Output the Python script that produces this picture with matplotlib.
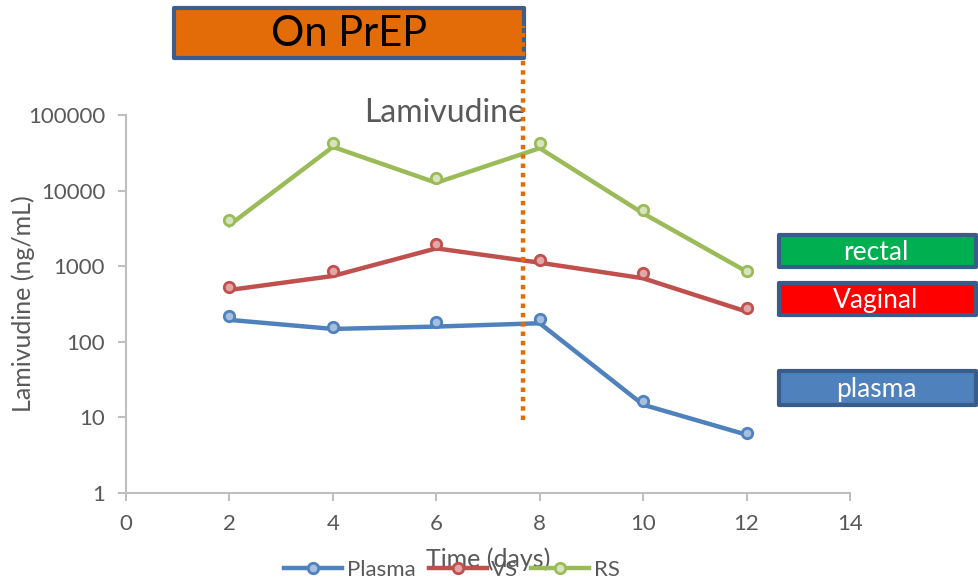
import matplotlib.pyplot as plt
from matplotlib.patches import Rectangle
from matplotlib.lines import Line2D

plt.rcParams['font.family'] = ['Lato', 'DejaVu Sans']

days = [2, 4, 6, 8, 10, 12]

# measured concentrations (markers) and the fitted trend drawn as the line
plasma_pts = [220, 156, 185, 201, 16.6, 6.2]
plasma_line = [195, 148, 159, 176, 14.7, 5.9]
vs_pts = [536, 873, 1946, 1208, 806, 283]
vs_line = [485, 742, 1722, 1112, 692, 251]
rs_pts = [4078, 42800, 14500, 42800, 5525, 873]
rs_line = [3500, 37900, 12700, 36400, 5000, 850]

series_names = ['Plasma', 'VS', 'RS']
line_colors = ['#4F81BD', '#C0504D', '#9BBB59']
fill_colors = ['#A7BFDE', '#DFA7A6', '#D7E4BD']

prep_stop = 7.68
prep_span = [9.3, 1.5e6]

gray = '#595959'

fig = plt.figure(figsize=(9.79, 5.82), dpi=100)
ax = fig.add_axes([126 / 979, 89 / 582, 724 / 979, 378 / 582])

handles = []
for name, pts, ln, c, fc in zip(series_names,
                                [plasma_pts, vs_pts, rs_pts],
                                [plasma_line, vs_line, rs_line],
                                line_colors, fill_colors):
    ax.plot(days, ln, color=c, lw=3.2, solid_joinstyle='round', zorder=3)
    ax.plot(days, pts, ls='none', marker='o', ms=7.5, mfc=fc, mec=c, mew=2,
            zorder=4)
    handles.append(Line2D([], [], color=c, lw=3.2, marker='o', ms=7.5,
                          mfc=fc, mec=c, mew=2))

ax.set_yscale('log')
ax.set_ylim(1, 100000)
ax.set_xlim(0, 14)
ax.set_xticks(range(0, 15, 2))
ax.set_yticks([1, 10, 100, 1000, 10000, 100000])
ax.set_yticklabels(['1', '10', '100', '1000', '10000', '100000'])
ax.minorticks_off()

for s in ['top', 'right']:
    ax.spines[s].set_visible(False)
for s in ['left', 'bottom']:
    ax.spines[s].set_color('#BFBFBF')
    ax.spines[s].set_linewidth(1.5)
ax.tick_params(axis='both', colors='#BFBFBF', labelcolor=gray, labelsize=16,
               length=6, width=1.5, direction='out')
ax.tick_params(axis='y', pad=9)
ax.tick_params(axis='x', pad=9)

ax.set_ylabel('Lamivudine (ng/mL)', fontsize=18, color=gray)
ax.yaxis.set_label_coords(-91 / 724, 0.5)
ax.set_xlabel('Time (days)', fontsize=18, color=gray, labelpad=10)
ax.text(445 / 979, 1 - 113 / 582, 'Lamivudine', transform=fig.transFigure,
        ha='center', va='center', fontsize=23, color=gray)

# dotted marker for the end of PrEP dosing
ax.plot([prep_stop, prep_stop], prep_span, color='#E36C09', lw=3.2,
        ls=(0, (1, 1.1)), dash_capstyle='butt', clip_on=False, zorder=10)

# "On PrEP" banner
ax.add_patch(Rectangle((174 / 979, 1 - 58 / 582), 350 / 979, 50 / 582,
                       transform=fig.transFigure, clip_on=False,
                       facecolor='#E36C09', edgecolor='#3B5E8C', lw=3,
                       joinstyle='round', zorder=8))
ax.text(349 / 979, 1 - 34 / 582, 'On PrEP', transform=fig.transFigure,
        ha='center', va='center', fontsize=30, color='black', zorder=9)

# compartment tags on the right
tags = [('rectal', '#00B050', 235, 267),
        ('Vaginal', '#FF0000', 283, 315),
        ('plasma', '#4F81BD', 371, 405)]
for txt, fc, y0, y1 in tags:
    ax.add_patch(Rectangle((779 / 979, 1 - y1 / 582), 197 / 979,
                           (y1 - y0) / 582, transform=fig.transFigure,
                           clip_on=False, facecolor=fc, edgecolor='#385D8A',
                           lw=3, joinstyle='round', zorder=8))
    ax.text(876 / 979, 1 - (y0 + y1) / 2 / 582 - 0.002, txt,
            transform=fig.transFigure, ha='center', va='center',
            fontsize=19, color='white', zorder=9)

fig.legend(handles, series_names, loc='center', ncol=3, frameon=False,
           bbox_to_anchor=(452 / 979, 1 - 570 / 582), fontsize=16,
           labelcolor=gray, handlelength=2.6, handletextpad=0.2,
           columnspacing=0.6)

fig.savefig('out.png', dpi=100)
